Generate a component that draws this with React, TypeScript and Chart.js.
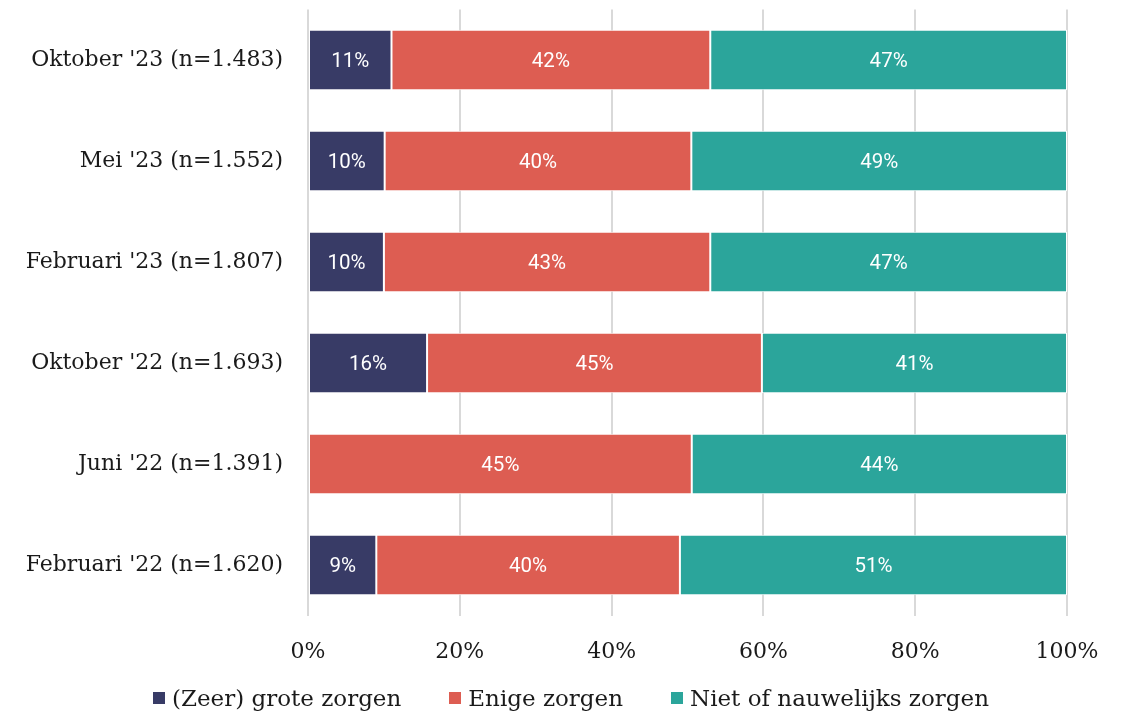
import React, { useEffect, useRef } from 'react';
import { Chart, registerables } from 'chart.js';

Chart.register(...registerables);

const categories = [
  "Oktober '23 (n=1.483)",
  "Mei '23 (n=1.552)",
  "Februari '23 (n=1.807)",
  "Oktober '22 (n=1.693)",
  "Juni '22 (n=1.391)",
  "Februari '22 (n=1.620)",
];
const groteZorgen: (number | null)[] = [11, 10, 10, 16, null, 9];
const enigeZorgen: (number | null)[] = [42, 40, 43, 45, 45, 40];
const nietZorgen: (number | null)[] = [47, 49, 47, 41, 44, 51];
const seriesNames = ['(Zeer) grote zorgen', 'Enige zorgen', 'Niet of nauwelijks zorgen'];
const seriesColors = ['#383B66', '#DD5D52', '#2BA59B'];
const xTickValues = [0, 20, 40, 60, 80, 100];

const SERIF = "'DejaVu Serif', serif";

const segLabels = {
  id: 'segLabels',
  afterDatasetsDraw(chart: any) {
    const ctx = chart.ctx;
    ctx.save();
    ctx.fillStyle = '#ffffff';
    ctx.font = '400 20.5px Roboto, sans-serif';
    ctx.textAlign = 'center';
    ctx.textBaseline = 'middle';
    chart.data.datasets.forEach((ds: any, di: number) => {
      const meta = chart.getDatasetMeta(di);
      meta.data.forEach((el: any, i: number) => {
        const raw = ds.rawValues[i];
        if (raw == null) return;
        const { x, base, y } = el.getProps(['x', 'base', 'y'], true);
        ctx.fillText(raw + '%', (x + base) / 2, y + 1.5);
      });
    });
    ctx.restore();
  },
};

export default function App() {
  const ref = useRef<HTMLCanvasElement>(null);
  useEffect(() => {
    if (!ref.current) return;
    const series = [groteZorgen, enigeZorgen, nietZorgen];
    const totals = categories.map((_, i) =>
      series.reduce((s, arr) => s + (arr[i] ?? 0), 0)
    );
    const datasets = series.map((arr, si) => ({
      label: seriesNames[si],
      data: arr.map((v, i) => (v == null ? null : (v / totals[i]) * 100)),
      rawValues: arr,
      backgroundColor: seriesColors[si],
      borderColor: '#ffffff',
      borderWidth: 1,
      borderSkipped: false,
      categoryPercentage: 1,
      barPercentage: 0.6,
    }));
    const chart = new Chart(ref.current, {
      type: 'bar',
      data: { labels: categories, datasets: datasets as any },
      options: {
        indexAxis: 'y',
        responsive: false,
        animation: false,
        devicePixelRatio: 1,
        layout: { padding: { top: 9.5, right: 56, left: 0, bottom: 39.5 } },
        scales: {
          x: {
            stacked: true,
            min: 0,
            max: 100,
            afterBuildTicks: (scale: any) => {
              scale.ticks = xTickValues.map((v) => ({ value: v }));
            },
            afterFit: (scale: any) => {
              scale.height = 60;
            },
            ticks: {
              callback: (v: any) => v + '%',
              font: { family: SERIF, size: 22 },
              color: '#1a1a1a',
              padding: 24,
              maxRotation: 0,
            },
            grid: { color: '#d9d9d9', lineWidth: 2, drawTicks: false },
            border: { display: false },
          },
          y: {
            stacked: true,
            afterFit: (scale: any) => {
              scale.width = 308;
              scale.paddingTop = 0;
              scale.paddingBottom = 0;
            },
            ticks: {
              font: { family: SERIF, size: 22 },
              color: '#1a1a1a',
              padding: 17,
            },
            grid: { display: false },
            border: { display: false },
          },
        },
        plugins: {
          legend: { display: false },
          tooltip: { enabled: false },
        },
      },
      plugins: [segLabels],
    });
    return () => chart.destroy();
  }, []);
  return (
    <div style={{ position: 'absolute', left: 0, top: 0, width: 1123, height: 715, background: '#fff' }}>
      <canvas ref={ref} width={1123} height={715} style={{ display: 'block' }} />
      <div
        style={{
          position: 'absolute',
          left: 153,
          top: 686,
          height: 24,
          display: 'flex',
          alignItems: 'center',
          gap: 48,
          fontFamily: SERIF,
          fontSize: 23,
          lineHeight: '24px',
          color: '#1a1a1a',
          whiteSpace: 'nowrap',
        }}
      >
        {seriesNames.map((name, i) => (
          <div key={name} style={{ display: 'flex', alignItems: 'center' }}>
            <span
              style={{
                display: 'inline-block',
                width: 12,
                height: 12,
                background: seriesColors[i],
                marginRight: 7,
              }}
            />
            <span>{name}</span>
          </div>
        ))}
      </div>
    </div>
  );
}
